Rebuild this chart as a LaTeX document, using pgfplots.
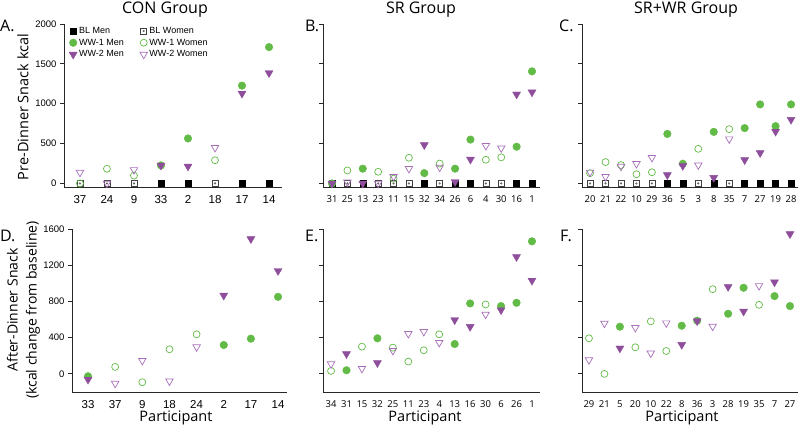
\documentclass[border=0pt]{standalone}
\usepackage{pgfplots}
\pgfplotsset{compat=1.18}
\usepackage{fontspec}
\setmainfont{Open Sans}
\newfontfamily\arial{Liberation Sans}
\definecolor{gr}{RGB}{98,187,70}
\definecolor{pu}{RGB}{142,78,156}
\definecolor{lpu}{RGB}{168,110,185}
\definecolor{ax}{RGB}{40,40,40}
\pgfdeclareplotmark{sqdot}{%
  \pgfpathrectangle{\pgfqpoint{-\pgfplotmarksize}{-\pgfplotmarksize}}{\pgfqpoint{2\pgfplotmarksize}{2\pgfplotmarksize}}%
  \pgfusepathqstroke
  \pgfpathcircle{\pgfpointorigin}{0.4\pgfplotmarksize}%
  \pgfusepathqfill
}
\pgfplotsset{
  panel/.style={scale only axis, anchor=south west, clip=false,
    axis x line*=bottom, axis y line*=left,
    axis line style={line width=0.8pt, ax},
    xtick style={draw=none},
    ytick style={line width=0.8pt, ax},
    tick align=outside, major tick length=4pt,
    /pgf/number format/assume math mode=true,
    /pgf/number format/1000 sep={},
    xticklabel style={yshift=-1pt},
    height=163pt},
  toprow/.style={panel, ymin=-45, ymax=2000, ytick={0,500,1000,1500,2000}},
  botrow/.style={panel, ymin=-200, ymax=1600, ytick={0,400,800,1200,1600}},
  con/.style={xtick={0,...,7}, xticklabel style={font=\arial\fontsize{11.5}{13}\selectfont},
    yticklabel style={font=\arial\fontsize{9.5}{11}\selectfont}},
  sr/.style={xtick={0,...,13}, xticklabel style={font=\fontsize{9.5}{11}\selectfont}, yticklabels={}},
  blm/.style={only marks, mark=square*, mark size=3pt, draw=black, fill=black},
  blw/.style={only marks, mark=sqdot, mark size=3pt, draw=black!75, fill=black!60, line width=0.6pt},
  w1m/.style={only marks, mark=*, mark size=3.8pt, draw=gr, fill=gr},
  w1w/.style={only marks, mark=o, mark size=3.5pt, draw=gr, line width=0.7pt},
  w2m/.style={only marks, mark=triangle*, mark size=4.6pt, draw=pu, fill=pu, mark options={rotate=180}},
  w2w/.style={only marks, mark=triangle, mark size=4.3pt, draw=lpu, line width=0.7pt, mark options={rotate=180}},
}
\begin{document}
\begin{tikzpicture}[x=1pt,y=1pt]
\useasboundingbox (0,0) rectangle (799,426);
% ---------- A ----------
\begin{axis}[toprow, con, at={(64pt,239pt)}, width=218pt, xmin=-0.59, xmax=7.48,
  xticklabels={37,24,9,33,2,18,17,14},
  legend columns=2,
  legend image code/.code={\draw[mark repeat=2,mark phase=2,#1] plot coordinates {(0pt,0pt)(3pt,0pt)(14pt,0pt)};},
  legend style={at={(0,1)}, anchor=north west, xshift=5pt, yshift=-1pt, draw=none, fill=none,
    inner sep=0pt, font=\arial\fontsize{9}{10.5}\selectfont, column sep=0pt,
    /tikz/every even column/.append style={column sep=14pt}},
  legend cell align=left]
\addplot[blm] coordinates {(3,0)(4,0)(6,0)(7,0)};
\addlegendentry{BL Men}
\addplot[blw] coordinates {(0,0)(1,0)(2,0)(5,0)};
\addlegendentry{BL Women}
\addplot[w1m] coordinates {(3,226)(4,564)(6,1227)(7,1710)};
\addlegendentry{WW-1 Men}
\addplot[w1w] coordinates {(0,0)(1,184)(2,98)(5,291)};
\addlegendentry{WW-1 Women}
\addplot[w2m] coordinates {(3,226)(4,214)(6,1128)(7,1385)};
\addlegendentry{WW-2 Men}
\addplot[w2w] coordinates {(0,137)(1,0)(2,171)(5,449)};
\addlegendentry{WW-2 Women}
\end{axis}
% ---------- B ----------
\begin{axis}[toprow, sr, at={(323pt,239pt)}, width=217pt, xmin=-0.585, xmax=13.52,
  xticklabels={31,25,13,23,11,15,32,34,26,6,4,30,16,1}]
\addplot[blm] coordinates {(0,0)(2,0)(6,0)(8,0)(9,0)(12,0)(13,0)};
\addplot[blw] coordinates {(1,0)(3,0)(4,0)(5,0)(7,0)(10,0)(11,0)};
\addplot[w1m] coordinates {(0,0)(2,185)(6,129)(8,185)(9,550)(12,460)(13,1406)};
\addplot[w1w] coordinates {(1,163)(3,146)(4,60)(5,322)(7,249)(10,297)(11,327)};
\addplot[w2m] coordinates {(0,0)(2,0)(6,482)(8,20)(9,301)(12,1118)(13,1144)};
\addplot[w2w] coordinates {(1,15)(3,0)(4,85)(5,185)(7,202)(10,473)(11,443)};
\end{axis}
% ---------- C ----------
\begin{axis}[toprow, sr, at={(582pt,239pt)}, width=216pt, xmin=-0.52, xmax=13.45,
  xticklabels={20,21,22,10,29,36,5,3,8,35,7,27,19,28}]
\addplot[blm] coordinates {(5,0)(6,0)(8,0)(10,0)(11,0)(12,0)(13,0)};
\addplot[blw] coordinates {(0,0)(1,0)(2,0)(3,0)(4,0)(7,0)(9,0)};
\addplot[w1m] coordinates {(5,621)(6,247)(8,647)(10,694)(11,991)(12,719)(13,991)};
\addplot[w1w] coordinates {(0,128)(1,268)(2,230)(3,115)(4,140)(7,434)(9,681)};
\addplot[w2m] coordinates {(5,106)(6,221)(8,72)(10,294)(11,383)(12,651)(13,800)};
\addplot[w2w] coordinates {(0,140)(1,85)(2,213)(3,247)(4,323)(7,230)(9,557)};
\end{axis}
% ---------- D ----------
\begin{axis}[botrow, con, at={(72pt,34pt)}, width=215pt, xmin=-0.59, xmax=7.33,
  xticklabels={33,37,9,18,24,2,17,14}]
\addplot[w1m] coordinates {(0,-26)(5,319)(6,389)(7,851)};
\addplot[w1w] coordinates {(1,77)(2,-92)(3,272)(4,437)};
\addplot[w2m] coordinates {(0,-62)(5,866)(6,1490)(7,1138)};
\addplot[w2w] coordinates {(1,-106)(2,147)(3,-81)(4,297)};
\end{axis}
% ---------- E ----------
\begin{axis}[botrow, sr, at={(323pt,34pt)}, width=217pt, xmin=-0.52, xmax=13.52,
  xticklabels={34,31,15,32,25,11,23,4,13,16,30,6,26,1}]
\addplot[w1m] coordinates {(1,40)(3,393)(8,330)(9,778)(11,749)(12,785)(13,1464)};
\addplot[w1w] coordinates {(0,33)(2,301)(4,290)(5,136)(6,261)(7,437)(10,767)};
\addplot[w2m] coordinates {(1,220)(3,121)(8,595)(9,521)(11,705)(12,1292)(13,1031)};
\addplot[w2w] coordinates {(0,110)(2,59)(4,257)(5,444)(6,466)(7,345)(10,657)};
\end{axis}
% ---------- F ----------
\begin{axis}[botrow, sr, at={(582pt,34pt)}, width=216pt, xmin=-0.45, xmax=13.52,
  xticklabels={29,21,5,20,10,22,8,36,3,28,19,35,7,27}]
\addplot[w1m] coordinates {(2,521)(6,532)(7,587)(9,664)(10,951)(12,859)(13,749)};
\addplot[w1w] coordinates {(0,393)(1,0)(3,294)(4,580)(5,253)(8,936)(11,763)};
\addplot[w2m] coordinates {(2,283)(6,323)(7,584)(9,962)(10,690)(12,1013)(13,1545)};
\addplot[w2w] coordinates {(0,154)(1,558)(3,510)(4,228)(5,562)(8,525)(11,973)};
\end{axis}
% ---------- titles and labels ----------
\node[font=\fontsize{16}{18}\selectfont] at (165,416) {CON Group};
\node[font=\fontsize{16}{18}\selectfont] at (421,416) {SR Group};
\node[font=\fontsize{16}{18}\selectfont] at (686,416) {SR+WR Group};
\node[font=\fontsize{16}{18}\selectfont, anchor=west, inner sep=0pt] at (0,400) {A.};
\node[font=\fontsize{16}{18}\selectfont, anchor=west, inner sep=0pt] at (305,400) {B.};
\node[font=\fontsize{16}{18}\selectfont, anchor=west, inner sep=0pt] at (559,400) {C.};
\node[font=\fontsize{16}{18}\selectfont, anchor=west, inner sep=0pt] at (0,190) {D.};
\node[font=\fontsize{16}{18}\selectfont, anchor=west, inner sep=0pt] at (305,190) {E.};
\node[font=\fontsize{16}{18}\selectfont, anchor=west, inner sep=0pt] at (560,190) {F.};
\node[font=\fontsize{14.5}{16}\selectfont, rotate=90] at (23,319) {Pre-Dinner Snack kcal};
\node[font=\fontsize{14}{19}\selectfont, rotate=90, align=center] at (23.5,116) {After-Dinner Snack\\(kcal change from baseline)};
\node[font=\fontsize{14.5}{17}\selectfont, inner sep=0pt] at (176,8) {Participant};
\node[font=\fontsize{14.5}{17}\selectfont, inner sep=0pt] at (425,8) {Participant};
\node[font=\fontsize{14.5}{17}\selectfont, inner sep=0pt] at (682,8) {Participant};
\end{tikzpicture}
\end{document}
